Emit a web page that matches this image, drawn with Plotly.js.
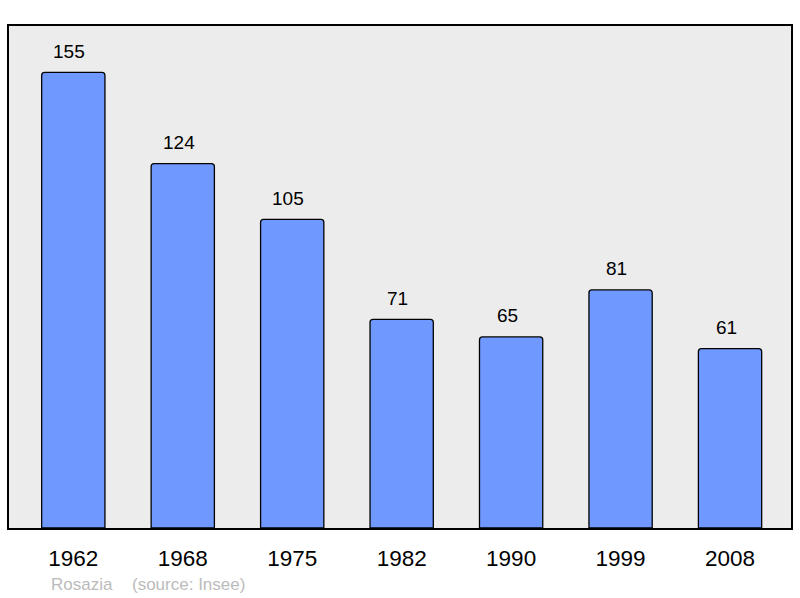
<!DOCTYPE html>
<html>
<head>
<meta charset="utf-8">
<script src="https://cdn.plot.ly/plotly-3.0.1.min.js"></script>
<style>html,body{margin:0;padding:0;background:#fff;}#chart{width:800px;height:598px;}</style>
</head>
<body>
<div id="chart"></div>
<script>
var years = ["1962", "1968", "1975", "1982", "1990", "1999", "2008"];
var population = [155, 124, 105, 71, 65, 81, 61];
var footerName = "Rosazia";
var footerSource = "(source: Insee)";

var FONT = "Liberation Sans, Arial, sans-serif";

var trace = {
  type: "bar",
  x: years,
  y: population,
  width: 0.578,
  marker: {color: "#7099ff", line: {color: "#000", width: 1.3}, cornerradius: 3},
  hoverinfo: "none"
};

var annotations = [];
for (var i = 0; i < years.length; i++) {
  annotations.push({
    x: i, y: population[i], xref: "x", yref: "y",
    text: String(population[i]), showarrow: false,
    xanchor: "center", yanchor: "middle", xshift: -4, yshift: 21,
    font: {family: FONT, size: 19, color: "#000"}
  });
}
annotations.push({
  x: (49 - 9) / 782, y: -(584 - 528) / 502, xref: "paper", yref: "paper",
  text: footerName, showarrow: false, xanchor: "left", yanchor: "middle",
  font: {family: FONT, size: 17, color: "#bbbbbb"}
});
annotations.push({
  x: (130 - 9) / 782, y: -(584 - 528) / 502, xref: "paper", yref: "paper",
  text: footerSource, showarrow: false, xanchor: "left", yanchor: "middle",
  font: {family: FONT, size: 17, color: "#bbbbbb"}
});

var layout = {
  width: 800, height: 598,
  margin: {l: 9, r: 9, t: 26, b: 70, pad: 0},
  paper_bgcolor: "#ffffff",
  plot_bgcolor: "#ececec",
  showlegend: false,
  xaxis: {
    type: "category",
    range: [-0.5875, 6.557],
    showgrid: false, zeroline: false,
    showline: true, mirror: true, linecolor: "#000", linewidth: 2,
    ticks: "", ticklabelstandoff: 9,
    tickfont: {family: FONT, size: 22.5, color: "#000"},
    fixedrange: true
  },
  yaxis: {
    range: [0, 170.8],
    showgrid: false, zeroline: false,
    showline: true, mirror: true, linecolor: "#000", linewidth: 2,
    showticklabels: false, ticks: "",
    fixedrange: true
  },
  annotations: annotations
};

Plotly.newPlot("chart", [trace], layout, {displayModeBar: false, staticPlot: true});
</script>
</body>
</html>
